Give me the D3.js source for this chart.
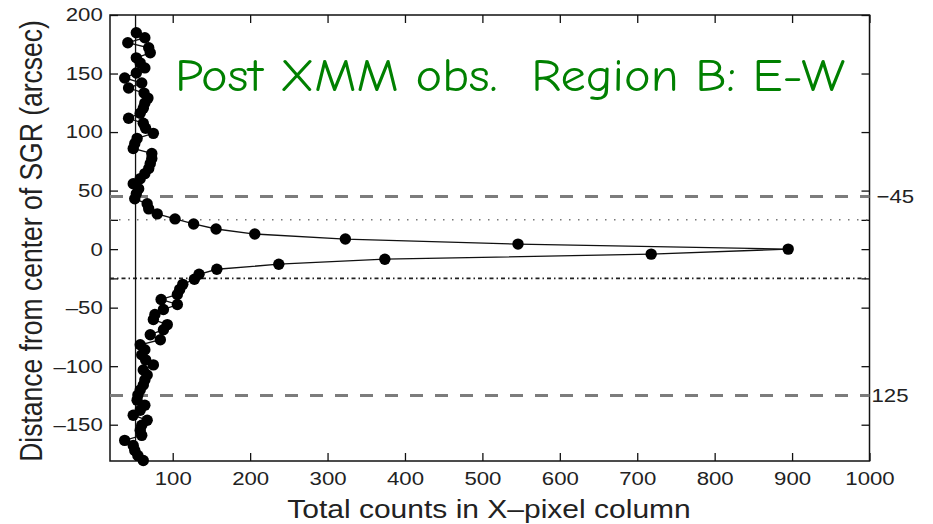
<!DOCTYPE html>
<html>
<head>
<meta charset="utf-8">
<script src="https://cdn.jsdelivr.net/npm/d3@7"></script>
<style>
  body { margin: 0; background: #fff; }
  .axis text { font-family: "Liberation Sans", Arial, sans-serif; font-size: 18.5px; fill: #222; }
  .axis line { stroke: #111; stroke-width: 1.3; }
</style>
</head>
<body>
<div id="chart"></div>
<script>
// Profile: distance (arcsec) and counts per column
const distance = [184.9, 180.6, 176.3, 172.0, 167.7, 163.4, 159.1, 154.8, 150.5, 146.2,
  141.9, 137.6, 133.3, 129.0, 124.7, 120.4, 116.1, 111.8, 107.5, 103.2,
  98.9, 94.6, 90.3, 86.0, 81.7, 77.4, 73.1, 68.8, 64.5, 60.2,
  55.9, 51.6, 47.3, 43.0, 38.7, 34.4, 30.1, 25.8, 21.5, 17.2,
  12.9, 8.6, 4.3, 0,
  -4.3, -8.6, -12.9, -17.2, -21.5, -25.8, -30.1, -34.4, -38.7, -43.0,
  -47.3, -51.6, -55.9, -60.2, -64.5, -68.8, -73.1, -77.4, -81.7, -86.0,
  -90.3, -94.6, -98.9, -103.2, -107.5, -111.8, -116.1, -120.4, -124.7, -129.0,
  -133.3, -137.6, -141.9, -146.2, -150.5, -154.8, -159.1, -163.4, -167.7, -172.0,
  -176.3, -180.6];
const counts = [53, 64, 42, 69, 71, 53, 58, 64, 53, 38,
  60, 43, 63, 68, 64, 62, 58, 43, 62, 65,
  75, 54, 51, 49, 73, 73, 71, 69, 64, 58,
  49, 56, 53, 51, 67, 69, 80, 103, 127, 156,
  206, 323, 546, 895,
  718, 374, 237, 157, 134, 128, 113, 109, 106, 85,
  106, 88, 77, 75, 93, 88, 71, 84, 58, 64,
  60, 65, 75, 62, 67, 64, 62, 58, 55, 54,
  64, 58, 49, 67, 60, 58, 60, 38, 49, 51,
  55, 62];

const xTicks = [100, 200, 300, 400, 500, 600, 700, 800, 900, 1000];
const yTicks = [200, 150, 100, 50, 45, 25, 0, -25, -50, -100, -125, -150];
const yLabelled = [200, 150, 100, 50, 0, -50, -100, -150];
const dashedLevels = [45, -125];
const dashedLabels = ["\u221245", "125"];
const dottedLevel = 25;
const dashDotLevel = -25;
const baselineCount = 52;

const width = 933, height = 524;
const margin = {left: 110, right: 63.5, top: 15, bottom: 63};
const stretch = "scale(1.2,1)";   // the reference text is drawn wider than normal
const textFont = "'Liberation Sans', Arial, sans-serif";

const svg = d3.select("#chart")
  .append("svg")
  .attr("width", width)
  .attr("height", height);

const xScale = d3.scaleLinear()
  .domain([19, 1000])
  .range([margin.left, width - margin.right]);

const yScale = d3.scaleLinear()
  .domain([-181, 200])
  .range([height - margin.bottom, margin.top]);

const fmt = d => yLabelled.includes(d) ? String(d).replace("-", "\u2013") : "";

// axes, ticks pointing inward
svg.append("g").attr("class", "axis")
  .attr("transform", `translate(0,${height - margin.bottom})`)
  .call(d3.axisBottom(xScale).tickValues(xTicks).tickSize(-8).tickPadding(11).tickFormat(d3.format("d")))
  .call(g => g.select(".domain").remove())
  .call(g => g.selectAll("text").attr("transform", stretch));

svg.append("g").attr("class", "axis")
  .attr("transform", `translate(0,${margin.top})`)
  .call(d3.axisTop(xScale).tickValues(xTicks).tickSize(-8).tickFormat(""))
  .call(g => g.select(".domain").remove());

svg.append("g").attr("class", "axis")
  .attr("transform", `translate(${margin.left},0)`)
  .call(d3.axisLeft(yScale).tickValues(yTicks).tickSize(-8).tickPadding(6).tickFormat(fmt))
  .call(g => g.select(".domain").remove())
  .call(g => g.selectAll("text").attr("transform", stretch));

svg.append("g").attr("class", "axis")
  .attr("transform", `translate(${width - margin.right},0)`)
  .call(d3.axisRight(yScale).tickValues(yTicks).tickSize(-8).tickFormat(""))
  .call(g => g.select(".domain").remove());

// frame
svg.append("rect")
  .attr("x", margin.left).attr("y", margin.top)
  .attr("width", width - margin.left - margin.right)
  .attr("height", height - margin.top - margin.bottom)
  .attr("fill", "none").attr("stroke", "#111").attr("stroke-width", 1.5);

// reference lines
svg.selectAll(".dashed")
  .data(dashedLevels)
  .enter()
  .append("line")
    .attr("class", "dashed")
    .attr("x1", margin.left).attr("x2", width - margin.right)
    .attr("y1", d => yScale(d)).attr("y2", d => yScale(d))
    .attr("stroke", "#7c7c7c").attr("stroke-width", 3)
    .attr("stroke-dasharray", "13,12");

svg.append("line")
  .attr("x1", margin.left).attr("x2", width - margin.right)
  .attr("y1", yScale(dottedLevel)).attr("y2", yScale(dottedLevel))
  .attr("stroke", "#777").attr("stroke-width", 1.5)
  .attr("stroke-dasharray", "1.5,7.5");

svg.append("line")
  .attr("x1", margin.left).attr("x2", width - margin.right)
  .attr("y1", yScale(dashDotLevel)).attr("y2", yScale(dashDotLevel))
  .attr("stroke", "#222").attr("stroke-width", 1.6)
  .attr("stroke-dasharray", "4,3,1.5,3");

svg.selectAll(".refLabel")
  .data(dashedLabels)
  .enter()
  .append("text")
    .attr("class", "refLabel")
    .attr("transform", (d, i) =>
      `translate(${width - margin.right + (i === 0 ? 7 : 2)},${yScale(dashedLevels[i])}) ${stretch}`)
    .attr("dy", "0.35em")
    .attr("font-family", textFont)
    .attr("font-size", 18.5)
    .attr("fill", "#222")
    .text(d => d);

// vertical baseline
svg.append("line")
  .attr("x1", xScale(baselineCount)).attr("x2", xScale(baselineCount))
  .attr("y1", margin.top).attr("y2", height - margin.bottom)
  .attr("stroke", "#111").attr("stroke-width", 1.3);

// profile line and points
const profile = distance.map((d, i) => ({dist: d, count: counts[i]}));

svg.append("path")
  .datum(profile)
  .attr("fill", "none")
  .attr("stroke", "#111")
  .attr("stroke-width", 1.3)
  .attr("d", d3.line().x(d => xScale(d.count)).y(d => yScale(d.dist)));

svg.selectAll(".point")
  .data(profile)
  .enter()
  .append("circle")
    .attr("class", "point")
    .attr("cx", d => xScale(d.count))
    .attr("cy", d => yScale(d.dist))
    .attr("r", 5.7)
    .attr("fill", "#000");

// axis titles
svg.append("text")
  .attr("transform", `translate(489,518) ${stretch}`)
  .attr("text-anchor", "middle")
  .attr("font-family", textFont)
  .attr("font-size", 25)
  .attr("fill", "#222")
  .text("Total counts in X\u2013pixel column");

svg.append("text")
  .attr("transform", `translate(42,241) ${stretch} rotate(-90)`)
  .attr("text-anchor", "middle")
  .attr("font-family", textFont)
  .attr("font-size", 26.5)
  .attr("fill", "#222")
  .text("Distance from center of SGR (arcsec)");

// title
svg.append("text")
  .attr("x", 175).attr("y", 91)
  .attr("font-family", "'Comic Sans MS', 'Comic Neue', 'DejaVu Sans', sans-serif")
  .attr("font-size", 47)
  .attr("fill", "#008000")
  .attr("textLength", 670)
  .attr("lengthAdjust", "spacingAndGlyphs")
  .text("Post XMM obs.\u00a0 Region B: E-W");
</script>
</body>
</html>
